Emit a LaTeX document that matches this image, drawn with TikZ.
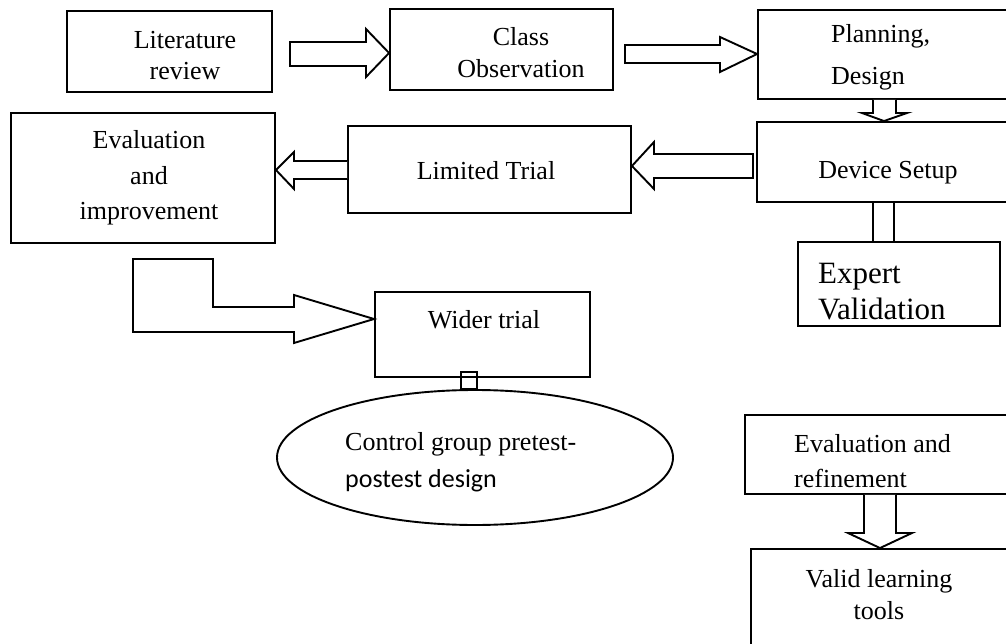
\documentclass[tikz,border=0pt]{standalone}
\usepackage{fontspec}
\setmainfont{Liberation Serif}
\newfontfamily\calibrifont{Carlito}
\usetikzlibrary{shapes.geometric,calc}
\tikzset{
  box/.style={draw, line width=1.9pt, inner sep=0pt, rectangle},
  blk/.style={draw, line width=1.9pt, line join=miter, fill=white},
  lbl/.style={inner sep=0pt, font=\fontsize{26}{34}\selectfont},
}
\begin{document}
\begin{tikzpicture}[x=1pt,y=-1pt]
\useasboundingbox (0,0) rectangle (1006,644);
\clip (0,0) rectangle (1006,644);
% boxes
\node[box, minimum width=205, minimum height=81] (lit) at (169.5,51.5) {};
\node[box, minimum width=223, minimum height=81] (cls) at (501.5,49.5) {};
\node[box, minimum width=272, minimum height=89] (plan) at (894,54.5) {};
\node[box, minimum width=273, minimum height=80] (dev) at (893.5,162) {};
\node[box, minimum width=202, minimum height=84] (exp) at (899,284) {};
\node[box, minimum width=283, minimum height=87] (lim) at (489.5,169.5) {};
\node[box, minimum width=264, minimum height=130] (evi) at (143,178) {};
\node[box, minimum width=215, minimum height=85] (wid) at (482.5,334.5) {};
\node[draw, line width=1.9pt, ellipse, inner sep=0pt, minimum width=396, minimum height=135] (ell) at (475,457.5) {};
\node[box, minimum width=285, minimum height=79] (evr) at (887.5,454.5) {};
\node[box, minimum width=279, minimum height=121] (val) at (890.5,609.5) {};
% texts
\node[lbl, align=center, font=\fontsize{26}{31}\selectfont] (litT) at (185,56) {Literature\\review};
\node[lbl, align=center, font=\fontsize{26}{32}\selectfont] (clsT) at (521,53) {Class\\Observation};
\node[lbl, align=left, anchor=west, font=\fontsize{26}{42}\selectfont] (planT) at (831,57) {Planning,\\Design};
\node[lbl] (devT) at (888,173) {Device Setup};
\node[lbl, align=left, anchor=west, font=\fontsize{31}{36}\selectfont] (expT) at (818,292) {Expert\\Validation};
\node[lbl] (limT) at (486,171) {Limited Trial};
\node[lbl, align=center, font=\fontsize{26}{35.5}\selectfont] (eviT) at (149,178) {Evaluation\\and\\improvement};
\node[lbl] (widT) at (484,320) {Wider trial};
\node[lbl, align=left, anchor=west, font=\fontsize{26}{37}\selectfont] (ellT) at (345,462) {Control group pretest-\\{\calibrifont postest design}};
\node[lbl, align=left, anchor=west, font=\fontsize{26}{35}\selectfont] (evrT) at (794,461) {Evaluation and\\refinement};
\node[lbl, align=center, font=\fontsize{26}{32}\selectfont] (valT) at (879,595) {Valid learning\\tools};
% block arrows
\draw[blk] (290,42) -- (366,42) -- (366,29) -- (cls.west |- 0,53) -- (366,77) -- (366,66) -- (290,66) -- cycle;
\draw[blk] (625,45) -- (720,45) -- (720,37) -- (plan.west |- 0,54) -- (720,72) -- (720,63) -- (625,63) -- cycle;
\draw[blk] (873,0 |- plan.south) -- (873,113) -- (862,113) -- (884,0 |- dev.north) -- (907,113) -- (896,113) -- (896,0 |- plan.south);
\draw[blk] (753,154) -- (654,154) -- (654,142) -- (lim.east |- 0,166) -- (654,189) -- (654,178) -- (753,178) -- cycle;
\draw[blk] (lim.west |- 0,161) -- (294,161) -- (294,152) -- (evi.east |- 0,170) -- (294,189) -- (294,179) -- (lim.west |- 0,179);
\draw[line width=1.9pt] (873,0 |- dev.south) -- (873,0 |- exp.north) (894,0 |- dev.south) -- (894,0 |- exp.north);
\draw[blk] (133,259) -- (213,259) -- (213,307) -- (294,307) -- (294,295) -- (wid.west |- 0,319) -- (294,343) -- (294,332) -- (133,332) -- cycle;
\draw[box] (461,372) rectangle (477,0 |- ell.north);
\draw[blk] (864,0 |- evr.south) -- (864,533) -- (848,533) -- (880,0 |- val.north) -- (912,533) -- (896,533) -- (896,0 |- evr.south);
\end{tikzpicture}
\end{document}
